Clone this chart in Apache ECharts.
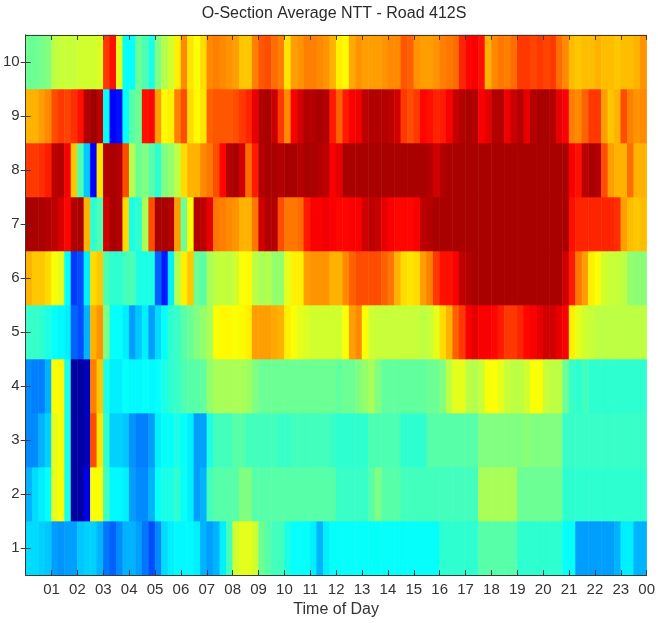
<!DOCTYPE html>
<html>
<head>
<meta charset="utf-8">
<script src="https://cdn.jsdelivr.net/npm/echarts@6/dist/echarts.min.js"></script>
<style>
html,body{margin:0;padding:0;background:#fff;overflow:hidden;}
#chart{width:658px;height:623px;filter:blur(0.6px);}
</style>
</head>
<body>
<div id="chart"></div>
<script>
// tick labels
const hourLabels = ['01','02','03','04','05','06','07','08','09','10','11','12','13','14','15','16','17','18','19','20','21','22','23','00'];
const rowLabels = ['1','2','3','4','5','6','7','8','9','10'];

// rows: 96 values each (15-minute slots), colour scale 0..100
const r1 = [
34,34,33,32, 28,27,28,28, 32,33,33,30,
24,22,26,30, 30,28,24,20, 26,34,36,37,
37,37,36,30, 28,30,36,44, 58,60,60,58,
48,46,44,44, 40,38,38,38, 36,30,36,38,
38,38,38,38, 38,38,38,38, 38,38,38,38,
38,38,38,38, 42,42,42,42, 42,42,46,46,
46,46,46,46, 42,42,42,42, 42,42,42,38,
38,28,28,28, 28,28,28,30, 36,36,30,30
];
const r2 = [
30,34,36,38, 60,62,40,2, 2,10,62,62,
44,37,37,36, 28,26,26,30, 38,40,40,42,
38,36,28,30, 44,46,46,46, 46,50,50,46,
46,46,46,46, 46,46,46,46, 46,46,46,46,
43,43,43,43, 43,46,50,46, 46,46,44,44,
44,44,44,44, 44,44,44,44, 44,44,54,54,
54,54,54,54, 48,48,48,48, 48,48,48,42,
42,42,42,42, 42,42,42,42, 42,42,42,42
];
const r3 = [
26,26,30,33, 60,62,40,2, 2,5,80,65,
42,33,33,32, 27,25,25,28, 36,38,38,40,
38,36,28,28, 40,44,44,44, 46,46,44,44,
44,44,44,43, 43,44,44,44, 44,44,44,43,
42,42,42,42, 42,45,45,45, 45,45,42,42,
42,42,46,46, 46,46,46,46, 46,46,50,50,
50,50,50,50, 50,51,50,50, 50,50,50,43,
43,43,43,43, 43,43,43,43, 43,43,43,43
];
const r4 = [
26,25,25,30, 62,63,40,2, 2,5,75,68,
40,36,36,38, 37,37,38,37, 38,40,42,43,
45,46,46,47, 52,54,54,54, 54,54,53,50,
48,48,48,48, 48,48,48,48, 48,48,48,48,
47,48,48,50, 52,54,50,47, 47,47,47,47,
47,47,48,48, 50,56,60,60, 56,55,57,62,
62,60,57,56, 56,58,62,62, 57,56,56,48,
43,42,44,42, 42,42,42,42, 42,42,42,42
];
const r5 = [
43,43,42,40, 38,37,36,22, 20,30,70,73,
50,38,38,36, 28,32,36,28, 34,38,42,43,
46,48,50,52, 54,62,63,63, 62,63,64,72,
72,72,71,70, 64,62,60,59, 58,58,58,58,
58,62,72,74, 62,58,57,57, 57,57,57,57,
57,56,57,60, 66,70,78,82, 88,90,88,88,
87,85,82,82, 84,87,88,90, 92,92,90,88,
64,60,58,57, 56,56,56,56, 56,56,56,56
];
const r6 = [
70,68,68,66, 62,60,38,18, 20,36,66,68,
45,42,42,44, 45,40,40,40, 22,15,36,55,
64,68,48,46, 54,56,57,56, 58,62,63,56,
54,55,52,52, 60,64,64,72, 73,73,73,70,
70,74,78,80, 80,80,80,78, 76,70,66,65,
66,72,75,82, 86,86,88,94, 95,96,96,96,
96,96,96,96, 96,96,96,96, 96,96,96,92,
85,76,72,64, 62,58,57,57, 56,52,51,51
];
const r7 = [
96,96,96,95, 94,91,87,95, 96,70,42,45,
92,96,95,66, 40,42,54,80, 96,96,95,72,
48,62,95,94, 90,76,75,74, 73,70,70,76,
92,95,95,80, 76,76,77,85, 88,88,89,88,
87,87,88,88, 92,94,93,90, 88,87,87,87,
88,94,95,96, 96,96,96,96, 96,96,96,96,
96,96,96,96, 96,96,96,96, 96,96,96,96,
86,84,84,84, 84,84,84,83, 72,69,68,69
];
const r8 = [
82,82,83,85, 94,95,88,68, 45,32,12,65,
95,96,95,80, 55,48,50,46, 42,50,52,56,
66,70,70,74, 76,80,87,95, 96,92,77,85,
95,96,96,95, 96,96,95,96, 96,95,94,88,
90,96,96,96, 96,96,96,96, 96,96,96,96,
96,96,95,92, 95,96,96,96, 96,96,96,96,
96,96,96,96, 96,96,96,96, 96,96,96,96,
88,86,94,96, 95,80,72,70, 70,77,70,70
];
const r9 = [
70,70,72,74, 80,82,81,83, 86,95,97,94,
38,12,14,38, 46,48,86,87, 72,63,64,75,
80,66,63,65, 78,79,79,79, 80,82,84,90,
95,96,93,82, 74,88,92,95, 95,96,95,85,
78,85,88,89, 94,95,95,95, 94,92,82,80,
82,87,86,84, 85,88,93,95, 96,95,88,90,
95,95,89,93, 95,90,95,96, 96,95,90,88,
75,74,78,82, 82,72,68,70, 80,75,73,74
];
const r10 = [
48,48,49,50, 56,57,57,57, 58,58,58,59,
82,86,60,38, 38,48,45,40, 50,55,58,64,
74,65,62,66, 74,75,74,73, 72,68,68,75,
79,80,77,75, 65,72,73,75, 75,74,73,70,
64,63,71,73, 72,72,72,73, 74,74,79,78,
73,72,72,73, 75,76,77,84, 87,88,86,70,
74,76,75,77, 82,82,81,82, 81,82,77,74,
69,68,69,69, 70,69,69,68, 69,69,70,73
];

const rowsData = [r1,r2,r3,r4,r5,r6,r7,r8,r9,r10];
const slots = [];
for (let i = 0; i < 96; i++) slots.push(String(i));
const data = [];
rowsData.forEach((row, y) => row.forEach((v, x) => data.push([x, y, v])));

const jet = ['#000090','#0000FF','#0080FF','#00FFFF','#80FF80','#FFFF00','#FF8000','#FF0000','#800000'];
const font = "'Liberation Sans', Arial, Helvetica, sans-serif";
const axisCol = '#3a3a3a';

const chart = echarts.init(document.getElementById('chart'));
chart.setOption({
  backgroundColor: '#fff',
  animation: false,
  textStyle: { fontFamily: font },
  title: {
    text: 'O-Section Average NTT - Road 412S',
    left: 334, textAlign: 'center', top: 6, padding: 0,
    textStyle: { fontSize: 16, fontWeight: 'normal', color: '#2a2a2a', fontFamily: font }
  },
  grid: { left: 18, right: 8, top: 35, bottom: 41 },
  visualMap: {
    type: 'continuous', min: 0, max: 100, show: false, dimension: 2, seriesIndex: 0,
    inRange: { color: jet }
  },
  xAxis: [
    { type: 'category', data: slots, show: false },
    {
      type: 'value', min: 0, max: 24, interval: 1, position: 'bottom', z: 10,
      axisLine: { show: true, lineStyle: { color: axisCol, width: 1 } },
      axisTick: { show: true, inside: true, length: 5, lineStyle: { color: axisCol } },
      splitLine: { show: false },
      axisLabel: {
        margin: 7, fontSize: 15, color: '#333', fontFamily: font,
        showMinLabel: true, showMaxLabel: true,
        formatter: v => (v === 0 ? '' : hourLabels[v - 1])
      },
      name: 'Time of Day', nameLocation: 'middle', nameGap: 25,
      nameTextStyle: { fontSize: 16, color: '#333', fontFamily: font }
    },
    {
      type: 'value', min: 0, max: 24, interval: 1, position: 'top', z: 10,
      axisLine: { show: true, lineStyle: { color: axisCol, width: 1 } },
      axisTick: { show: true, inside: true, length: 5, lineStyle: { color: axisCol } },
      splitLine: { show: false },
      axisLabel: { show: false }
    }
  ],
  yAxis: [
    {
      type: 'category', data: rowLabels, z: 10,
      axisLine: { show: true, lineStyle: { color: axisCol, width: 1 } },
      axisTick: { show: true, inside: true, alignWithLabel: true, length: 5, lineStyle: { color: axisCol } },
      axisLabel: { margin: 6, fontSize: 15, color: '#333', fontFamily: font }
    },
    {
      type: 'category', data: rowLabels, position: 'right', z: 10,
      axisLine: { show: true, lineStyle: { color: axisCol, width: 1 } },
      axisTick: { show: true, inside: true, alignWithLabel: true, length: 5, lineStyle: { color: axisCol } },
      axisLabel: { show: false }
    }
  ],
  series: [{
    type: 'heatmap', xAxisIndex: 0, yAxisIndex: 0, data: data,
    progressive: 0, itemStyle: { borderWidth: 0 }, emphasis: { disabled: true }
  }]
});
</script>
</body>
</html>
